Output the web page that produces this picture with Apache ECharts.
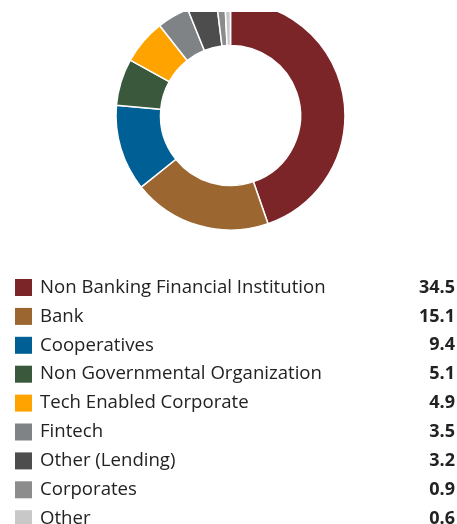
<!DOCTYPE html>
<html>
<head>
<meta charset="utf-8">
<script src="https://cdn.jsdelivr.net/npm/echarts@6/dist/echarts.min.js"></script>
<style>
	html, body { margin: 0; padding: 0; background: #fff; }
	#chart { width: 457px; height: 524px; }
</style>
</head>
<body>
<div id="chart"></div>
<script>
const categories = [
	'Non Banking Financial Institution',
	'Bank',
	'Cooperatives',
	'Non Governmental Organization',
	'Tech Enabled Corporate',
	'Fintech',
	'Other (Lending)',
	'Corporates',
	'Other'
]
const values = [34.5, 15.1, 9.4, 5.1, 4.9, 3.5, 3.2, 0.9, 0.6]
const colors = ['#7b2529', '#9c6630', '#005f94', '#3a583b', '#ffa300', '#7f8386', '#4d4d4d', '#8c8c8c', '#c8c8c8']

const myChart = echarts.init(document.getElementById('chart'))
const option = {
	color: colors,
	animation: false,
	legend: {
		orient: 'vertical',
		left: 15,
		top: 278,
		height: 300,
		padding: 0,
		icon: 'rect',
		itemWidth: 17,
		itemHeight: 17,
		itemGap: 9.9,
		selectedMode: false,
		itemStyle: { borderWidth: 0 },
		formatter: (name) => {
			const i = categories.indexOf(name)
			return `{n|${name}}{v|${values[i].toFixed(1)}}`
		},
		textStyle: {
			rich: {
				n: { fontFamily: 'Open Sans', fontSize: 18.6, lineHeight: 20, color: '#222', width: 381, padding: [0, 0, 0, 3] },
				v: { fontFamily: 'Open Sans', fontSize: 18, lineHeight: 20, fontWeight: 'bold', color: '#222', width: 34, align: 'right' }
			}
		}
	},
	series: [
		{
			type: 'pie',
			center: [230.5, 115.5],
			radius: [70, 114.5],
			startAngle: 90,
			clockwise: true,
			label: { show: false },
			labelLine: { show: false },
			itemStyle: { borderColor: '#fff', borderWidth: 1.5 },
			data: categories.map((name, i) => ({ name, value: values[i] }))
		}
	],
	graphic: [
		{ type: 'rect', left: 0, top: 0, z: 100, shape: { width: 457, height: 12 }, style: { fill: '#fff' } }
	]
}
myChart.setOption(option)
</script>
</body>
</html>
